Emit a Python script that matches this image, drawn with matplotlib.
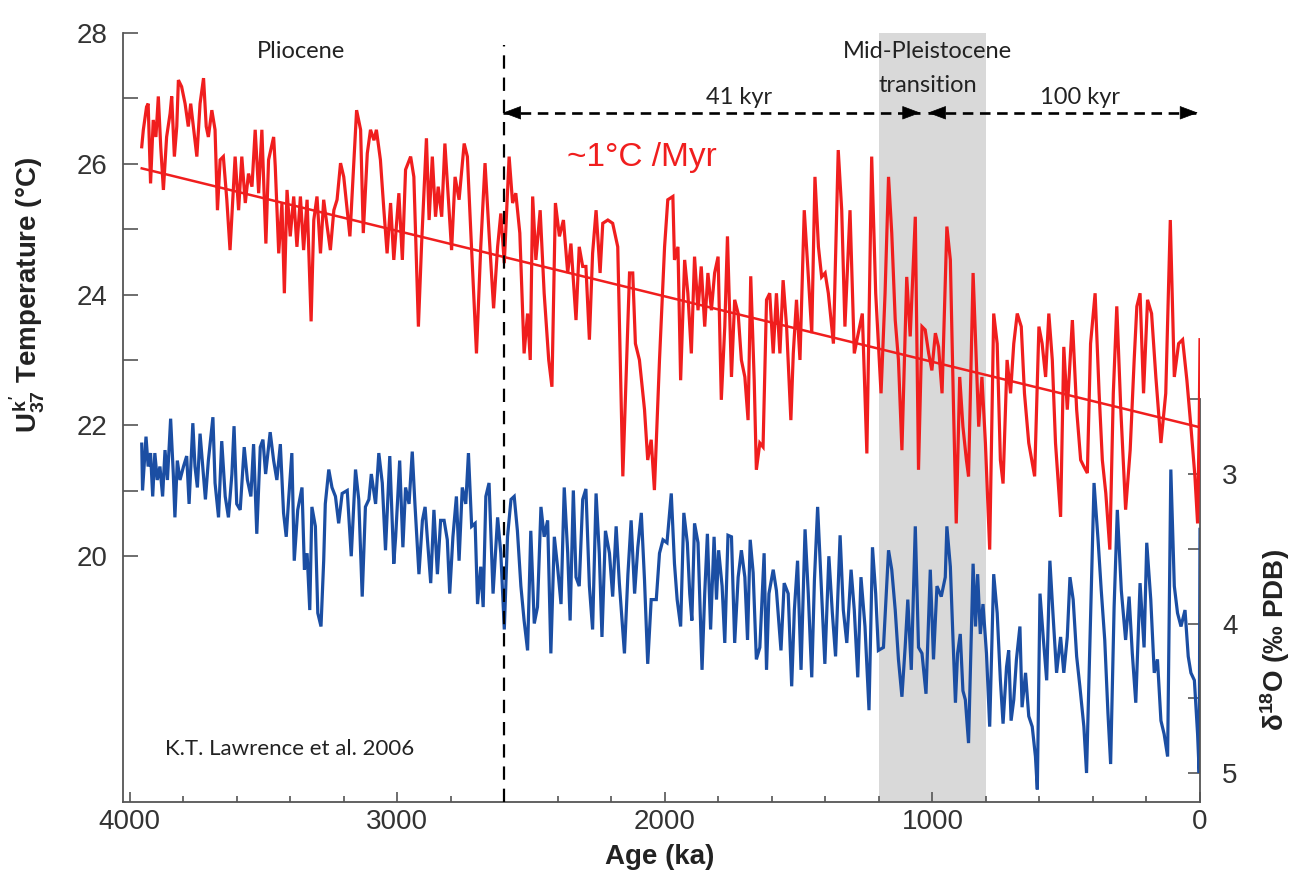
import matplotlib
matplotlib.use("Agg")
import matplotlib.pyplot as plt
from matplotlib.ticker import MultipleLocator, FixedLocator

# ODP 846 alkenone SST (Uk'37) and benthic d18O, 4 Ma to present
sst_age = [
    3955, 3949, 3937, 3931, 3922, 3912, 3902, 3893, 3884, 3874,
    3862, 3849, 3843, 3833, 3824, 3818, 3806, 3793, 3781, 3772,
    3762, 3749, 3737, 3724, 3714, 3706, 3693, 3681, 3672, 3662,
    3650, 3637, 3625, 3606, 3593, 3581, 3568, 3556, 3543, 3531,
    3518, 3506, 3491, 3481, 3462, 3456, 3443, 3431, 3422, 3412,
    3400, 3387, 3375, 3362, 3350, 3337, 3322, 3312, 3300, 3287,
    3275, 3262, 3250, 3237, 3225, 3212, 3200, 3177, 3162, 3152,
    3137, 3127, 3112, 3100, 3087, 3078, 3063, 3050, 3038, 3025,
    3013,
    2994, 2981, 2969, 2950, 2938, 2921, 2909, 2891, 2881, 2869,
    2857, 2847, 2834, 2822, 2809, 2797, 2784, 2769, 2750, 2738,
    2725, 2704, 2688, 2672, 2657, 2640, 2625, 2613, 2600, 2582,
    2569, 2557, 2542, 2526, 2513, 2503, 2494, 2482, 2466, 2451,
    2434, 2422, 2409, 2394, 2379, 2363, 2351, 2332, 2320, 2307,
    2295, 2282, 2270, 2257, 2242, 2232, 2213, 2195, 2176, 2157,
    2145, 2132, 2120, 2110, 2095, 2076, 2064, 2051, 2039, 2020,
    2001, 1989, 1970,
    1964, 1951, 1941, 1926, 1914, 1901, 1889, 1876, 1864, 1851,
    1839, 1826, 1814, 1801, 1789, 1776, 1766, 1751, 1739, 1726,
    1714, 1701, 1689, 1679, 1666, 1658, 1645, 1633, 1620, 1608,
    1595, 1583, 1570, 1558, 1545, 1529, 1520, 1508, 1495, 1479,
    1466, 1451, 1439, 1426, 1414, 1401, 1389, 1370, 1352, 1339,
    1327, 1308, 1292, 1277, 1262, 1245, 1227, 1212, 1192, 1177,
    1164, 1152, 1139, 1127, 1114, 1096, 1083, 1064, 1052, 1039,
    1027, 1014, 1002, 989, 977, 964,
    946, 933, 921, 911, 898, 886, 873, 865, 848, 836,
    827, 815, 802, 786, 771, 758, 746, 736, 721, 708,
    696, 683, 668, 656, 640, 618, 602, 590, 577, 565,
    552, 540, 521, 509, 496, 477, 461, 446, 434, 421,
    409, 392, 377, 365, 352, 337, 324, 311, 296, 278,
    261, 246, 236, 224, 211, 196, 181, 165, 146, 128,
    111, 96, 80, 65, 49, 34, 19, 9, 3, 0,
]
sst = [
    26.26, 26.52, 26.87, 26.92, 25.70, 26.67, 26.41, 27.03, 26.26, 25.60,
    26.41, 26.77, 27.03, 26.11, 26.57, 27.28, 27.18, 26.92, 26.57, 26.92,
    26.57, 26.11, 26.92, 27.31, 26.57, 26.41, 26.82, 26.52, 25.29, 26.06,
    26.11, 25.45, 24.68, 26.11, 25.29, 26.11, 25.40, 25.85, 25.65, 26.52,
    25.55, 26.52, 24.78, 26.06, 26.41, 25.96, 24.63, 25.40, 24.02, 25.60,
    24.89, 25.50, 24.73, 25.50, 24.68, 25.45, 23.59, 25.14, 25.50, 24.63,
    25.45, 25.04, 24.68, 25.29, 25.45, 26.01, 25.80, 24.89, 26.06, 26.82,
    26.52, 24.94, 26.16, 26.52, 26.36, 26.52, 26.06, 25.29, 24.63, 25.40,
    24.53,
    25.55, 24.53, 25.91, 26.11, 25.80, 23.51, 24.78, 26.39, 25.14, 26.11,
    25.19, 25.65, 25.19, 26.31, 25.45, 24.68, 25.80, 25.45, 26.31, 26.11,
    24.94, 23.10, 24.73, 26.01, 24.94, 23.79, 24.73, 25.24, 24.48, 26.11,
    25.40, 25.55, 24.94, 23.10, 23.71, 23.00, 25.50, 24.53, 25.29, 24.02,
    23.00, 22.59, 25.40, 24.89, 25.14, 24.33, 24.78, 23.61, 24.73, 24.43,
    24.43, 23.31, 24.63, 25.29, 24.33, 25.09, 25.14, 25.09, 24.73, 21.22,
    22.69, 24.33, 24.33, 23.25, 23.00, 22.24, 21.47, 21.78, 21.01, 23.00,
    24.73, 25.45, 25.50,
    24.53, 24.73, 22.69, 24.53, 24.02, 23.10, 24.58, 23.76, 24.43, 23.51,
    24.33, 23.76, 24.33, 24.58, 22.39, 23.51, 24.89, 22.74, 23.92, 23.71,
    23.00, 22.74, 22.08, 24.28, 22.69, 21.32, 21.73, 21.67, 23.92, 24.02,
    23.10, 24.02, 23.10, 24.22, 23.51, 22.08, 23.10, 23.92, 23.00, 25.29,
    24.43, 23.41, 25.80, 24.73, 24.27, 24.33, 24.02, 23.25, 26.21, 25.29,
    23.51, 25.29, 23.10, 23.41, 23.71, 21.57, 26.11, 24.02, 22.49, 24.02,
    25.80, 24.94, 23.61, 23.00, 21.62, 24.27, 23.36, 25.19, 21.32, 23.51,
    23.46, 23.10, 22.84, 23.41, 23.20, 22.49,
    25.04, 24.53, 22.24, 20.50, 22.74, 21.98, 21.47, 21.22, 24.33, 23.00,
    21.98, 22.74, 21.73, 20.10, 23.71, 23.25, 21.47, 21.11, 23.00, 22.49,
    23.25, 23.71, 23.51, 22.49, 21.73, 21.22, 23.51, 23.25, 22.74, 23.71,
    23.00, 21.73, 20.60, 23.20, 22.24, 23.61, 22.24, 21.47, 21.37, 21.27,
    23.25, 24.02, 22.49, 21.47, 20.96, 20.10, 22.49, 23.82, 22.24, 20.71,
    21.62, 23.00, 23.82, 24.02, 22.49, 23.92, 23.71, 22.74, 21.73, 22.49,
    25.14, 22.74, 23.25, 23.31, 22.69, 21.98, 21.22, 20.50, 21.98, 23.31,
]

d18o_age = [
    3955, 3952, 3939, 3931, 3922, 3914, 3906, 3897, 3887, 3877,
    3868, 3859, 3847, 3837, 3831, 3822, 3812, 3799, 3787, 3778,
    3764, 3756, 3747, 3737, 3727, 3717, 3706, 3689, 3681, 3668,
    3656, 3643, 3631, 3618, 3610, 3600, 3587, 3572, 3560, 3547,
    3537, 3525, 3512, 3502, 3492, 3475, 3462, 3450, 3437, 3425,
    3415, 3406, 3394, 3385, 3372, 3356, 3347, 3337, 3327, 3319,
    3306, 3297, 3285, 3275, 3269, 3256, 3244, 3231, 3219, 3206,
    3187, 3172, 3156, 3144, 3131, 3119, 3106, 3097, 3081, 3069,
    3056, 3044, 3028, 3013,
    3006, 2991, 2979, 2969, 2956, 2944, 2934, 2919, 2906, 2896,
    2888, 2875, 2863, 2850, 2838, 2825, 2813, 2804, 2792, 2779,
    2769, 2757, 2744, 2734, 2722, 2709, 2700, 2688, 2679, 2669,
    2657, 2642, 2625, 2613, 2600, 2588, 2575, 2563, 2551, 2538,
    2526, 2513, 2501, 2488, 2476, 2463, 2451, 2438, 2426, 2413,
    2401, 2388, 2376, 2363, 2354, 2342, 2332, 2320, 2307, 2295,
    2282, 2270, 2257, 2245, 2235, 2222, 2207, 2195, 2182, 2170,
    2151, 2138, 2126, 2113, 2101, 2088, 2076, 2064, 2051, 2032,
    2020, 2007, 1992,
    1976, 1964, 1954, 1941, 1929, 1916, 1907, 1899, 1889, 1876,
    1861, 1851, 1841, 1829, 1816, 1807, 1799, 1786, 1776, 1764,
    1751, 1739, 1726, 1714, 1701, 1691, 1681, 1670, 1658, 1645,
    1629, 1620, 1611, 1595, 1583, 1566, 1554, 1539, 1526, 1516,
    1504, 1491, 1476, 1464, 1451, 1441, 1429, 1417, 1402, 1387,
    1374, 1362, 1345, 1333, 1320, 1304, 1292, 1279, 1267, 1252,
    1237, 1224, 1212, 1202, 1183, 1164, 1152, 1139, 1127, 1114,
    1102, 1092, 1079, 1064, 1052, 1039, 1024, 1008, 996, 983,
    967, 952,
    946, 933, 923, 914, 906, 896, 886, 877, 865, 848,
    839, 831, 821, 811, 798, 786, 771, 758, 746, 736,
    723, 715, 706, 696, 686, 673, 665, 652, 640, 627,
    615, 608, 598, 586, 573, 561, 549, 536, 521, 509,
    496, 486, 474, 461, 449, 434, 424, 411, 396, 381,
    369, 356, 344, 334, 321, 309, 294, 278, 265, 253,
    240, 224, 209, 199, 184, 171, 159, 146, 134, 121,
    109, 96, 84, 71, 56, 44, 34, 21, 9, 3,
    0,
]
d18o = [
    2.80, 3.11, 2.75, 2.95, 2.86, 3.15, 2.86, 3.04, 2.95, 3.15,
    2.84, 3.04, 2.63, 3.00, 3.29, 2.91, 3.04, 2.95, 2.88, 3.20,
    2.66, 2.95, 3.09, 2.73, 2.95, 3.17, 2.91, 2.62, 3.06, 3.29,
    2.78, 3.15, 3.29, 3.00, 2.68, 3.20, 3.24, 2.82, 3.04, 3.15,
    2.80, 3.40, 2.82, 2.77, 3.00, 2.72, 2.91, 3.04, 2.80, 3.26,
    3.42, 3.17, 2.86, 3.58, 3.24, 3.09, 3.64, 3.53, 3.91, 3.22,
    3.35, 3.93, 4.02, 3.58, 3.20, 2.97, 3.09, 3.15, 3.33, 3.13,
    3.11, 3.55, 2.97, 3.17, 3.82, 3.22, 3.17, 3.00, 3.20, 2.86,
    3.06, 3.51, 2.88, 3.60,
    3.42, 2.91, 3.49, 3.09, 3.20, 2.85, 3.20, 3.67, 3.31, 3.22,
    3.42, 3.73, 3.24, 3.67, 3.31, 3.31, 3.44, 3.80, 3.42, 3.15,
    3.58, 3.09, 3.20, 2.86, 3.35, 3.33, 3.87, 3.62, 3.89, 3.15,
    3.06, 3.80, 3.29, 3.53, 4.04, 3.42, 3.17, 3.15, 3.38, 3.75,
    3.98, 4.18, 3.38, 4.00, 3.89, 3.22, 3.42, 3.31, 4.20, 3.42,
    3.62, 3.87, 3.09, 3.53, 3.98, 3.11, 3.69, 3.75, 3.17, 3.10,
    3.75, 4.04, 3.13, 3.53, 4.09, 3.38, 3.53, 3.82, 3.35, 3.73,
    4.20, 3.67, 3.31, 3.80, 3.49, 3.26, 3.71, 4.27, 3.84, 3.84,
    3.53, 3.44, 3.46,
    3.13, 3.60, 3.84, 4.02, 3.26, 3.46, 3.80, 3.98, 3.33, 3.46,
    4.31, 3.80, 3.40, 4.04, 3.42, 3.84, 3.51, 3.75, 4.13, 3.41,
    3.42, 4.13, 3.69, 3.51, 3.69, 4.11, 3.44, 3.66, 4.24, 4.16,
    3.53, 4.31, 3.80, 3.64, 3.78, 4.18, 3.73, 3.80, 4.42, 3.91,
    3.58, 4.31, 3.37, 3.80, 4.36, 3.71, 3.22, 3.69, 4.27, 3.55,
    3.93, 4.22, 3.41, 3.91, 4.13, 3.64, 3.91, 4.36, 3.69, 4.02,
    4.58, 3.49, 3.80, 4.18, 4.16, 3.51, 3.64, 3.91, 4.24, 4.49,
    4.16, 3.84, 4.31, 3.35, 4.16, 4.20, 4.47, 3.64, 4.24, 3.75,
    3.82, 3.69,
    3.35, 3.62, 4.11, 4.53, 4.20, 4.07, 4.45, 4.51, 4.80, 3.60,
    4.02, 3.67, 4.07, 3.87, 4.20, 4.69, 3.67, 3.93, 4.38, 4.67,
    4.29, 4.18, 4.65, 4.51, 4.24, 4.02, 4.56, 4.33, 4.62, 4.69,
    4.89, 5.11, 3.80, 4.09, 4.38, 3.58, 3.95, 4.33, 4.09, 4.33,
    4.09, 3.69, 3.84, 4.22, 4.42, 4.69, 5.00, 4.11, 3.06, 3.44,
    3.78, 4.11, 4.60, 4.94, 3.89, 3.24, 3.78, 4.11, 3.82, 4.20,
    4.53, 3.73, 4.16, 3.46, 3.84, 4.33, 4.24, 4.65, 4.74, 4.89,
    2.97, 3.75, 3.93, 4.02, 3.91, 4.22, 4.33, 4.38, 4.74, 5.00,
    3.37,
]

# linear cooling trend through the SST record
trend_age = [3955, 0]
trend_temp = [25.93, 21.97]

RED = "#f01e1e"
BLUE = "#1b4ea3"
INK = "#222222"

plt.rcParams["font.family"] = ["Liberation Sans", "DejaVu Sans"]
plt.rcParams["mathtext.fontset"] = "custom"
plt.rcParams["mathtext.rm"] = "Liberation Sans:bold"
plt.rcParams["mathtext.it"] = "Liberation Sans:bold"
plt.rcParams["mathtext.bf"] = "Liberation Sans:bold"

fig = plt.figure(figsize=(12.96, 8.72), dpi=100)
ax = fig.add_axes([123 / 1296, 70 / 872, 1077 / 1296, 769 / 872])
ax2 = ax.twinx()
ax.set_zorder(2)
ax2.set_zorder(1)
ax.patch.set_visible(False)

# Mid-Pleistocene transition
ax2.axvspan(1200, 800, color="#d9d9d9", lw=0, zorder=0)
ax2.plot(d18o_age, d18o, color=BLUE, lw=2.3, zorder=2, solid_joinstyle="miter")

ax.plot(sst_age, sst, color=RED, lw=2.3, zorder=3, solid_joinstyle="miter")
ax.plot(trend_age, trend_temp, color=RED, lw=1.8, zorder=4)

ax.set_xlim(4025, 0)
ax.set_ylim(16.24, 28)
ax2.set_ylim(5.194, 0.05)

# Plio/Pleistocene boundary
ax.axvline(2600, ymax=0.984, color="k", lw=1.6, ls=(0, (6, 4)), zorder=5)


def span_arrow(x0, x1, y):
    ax.plot([x0, x1], [y, y], color="k", lw=1.9, ls=(0, (4, 2.5)), zorder=5)
    for tip, back in ((x0, x0 - 60), (x1, x1 + 60)):
        ax.annotate("", xy=(tip, y), xytext=(back, y),
                    arrowprops=dict(arrowstyle="-|>,head_length=1.2,head_width=0.45",
                                    color="k", lw=0.5, shrinkA=0, shrinkB=0),
                    zorder=6)


span_arrow(2605, 1045, 26.78)
span_arrow(1017, 8, 26.78)

ann = dict(family=["Lato", "DejaVu Sans"], fontsize=17, color=INK, ha="center", va="center")
ax.text(3360, 27.71, "Pliocene", **ann)
ax.text(1723, 27.02, "41 kyr", **ann)
ax.text(1017, 27.71, "Mid-Pleistocene", **ann)
ax.text(1017, 27.20, "transition", **ann)
ax.text(448, 27.02, "100 kyr", **ann)
ax.text(3868, 17.05, "K.T. Lawrence et al. 2006",
        family=["Lato", "DejaVu Sans"], fontsize=16, color=INK, ha="left", va="center")
ax.text(2085, 26.09, "~1°C /Myr", fontsize=24, color=RED, ha="center", va="center")

# axes, ticks
for s in ("top", "right"):
    ax.spines[s].set_visible(False)
for s in ("top", "left", "bottom"):
    ax2.spines[s].set_visible(False)
for s in ("left", "bottom"):
    ax.spines[s].set_color("#555555")
    ax.spines[s].set_linewidth(1.3)
ax2.spines["right"].set_color("#555555")
ax2.spines["right"].set_linewidth(1.3)
ax2.spines["right"].set_bounds(2.5, 5.194)

ax.set_xticks([4000, 3000, 2000, 1000, 0])
ax.xaxis.set_minor_locator(MultipleLocator(200))
ax.set_yticks([20, 22, 24, 26, 28])
ax.yaxis.set_minor_locator(FixedLocator([21, 23, 25, 27]))
ax2.set_yticks([3, 4, 5])
ax2.yaxis.set_minor_locator(FixedLocator([2.5, 3.5, 4.5]))

ax.tick_params(axis="y", which="both", direction="in", length=11, width=1.2,
               color="#555555", labelsize=20, labelcolor="#333333", pad=11)
ax.tick_params(axis="x", which="major", direction="in", length=7, width=1.2,
               color="#555555", labelsize=20, labelcolor="#333333", pad=5)
ax.tick_params(axis="x", which="minor", direction="in", length=4.5, width=1.2,
               color="#555555")
ax2.tick_params(axis="y", which="both", direction="in", length=9, width=1.2,
                color="#555555", labelsize=20, labelcolor="#333333", pad=16)

ax.set_xlabel("Age (ka)", fontsize=20, fontweight="bold", color=INK)
ax.xaxis.set_label_coords(0.4986, -0.055)
ax.set_ylabel(r"$U^{k'}_{37}$ Temperature (°C)", fontsize=20, fontweight="bold", color=INK)
ax.yaxis.set_label_coords(-0.07, 0.66)
ax2.set_ylabel(r"δ$^{18}$O (‰ PDB)", fontsize=20, fontweight="bold", color=INK)
ax2.yaxis.set_label_coords(1.054, 0.211)

fig.savefig("out.png", dpi=100)
